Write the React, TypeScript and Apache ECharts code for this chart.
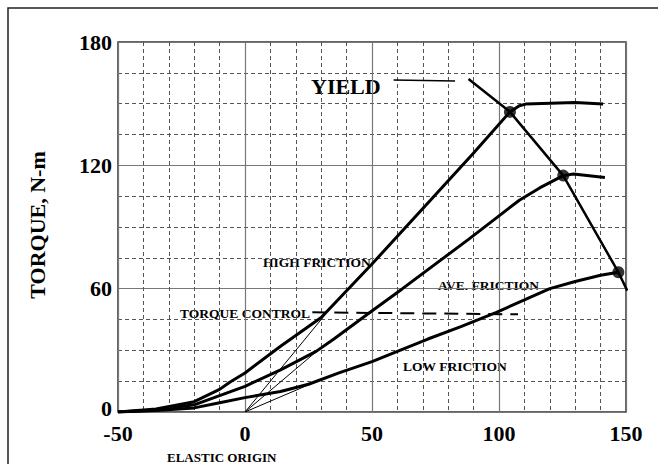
import React, { useEffect, useRef } from "react";
import * as echarts from "echarts";

// Category / tick values
const xTicks = [-50, 0, 50, 100, 150];
const yTicks = [0, 60, 120, 180];

// Curves [rotation (deg), torque (N-m)]
const highFriction: [number, number][] = [
  [-50, 0], [-35, 1.5], [-20, 5], [-10, 11], [-6, 14.5], [0, 19], [14, 32], [30, 46],
  [40, 59], [50, 72], [60, 85.5], [73, 103], [90, 126], [104.3, 146],
  [108, 149], [110.5, 149.8], [130, 150.6], [141, 149.8],
];
const aveFriction: [number, number][] = [
  [-50, 0], [-35, 1], [-20, 3.5], [-10, 8], [0, 12.5], [14, 20.5], [28, 29.5], [35, 35.5],
  [49, 48.3], [62, 60], [88, 84], [100.4, 95.8], [108, 103], [116, 109], [125.3, 115],
  [129.3, 115.8], [141.7, 114.1],
];
const lowFriction: [number, number][] = [
  [-50, 0], [-35, 0.7], [-20, 2], [-10, 4.5], [0, 7], [14, 10], [25, 13.5], [37, 19],
  [50, 24.5], [60, 29.5], [72, 35.5], [85, 41.5], [99, 48.5], [110, 54.5], [120, 60],
  [130, 63.5], [140, 66.5], [147, 68],
];
const yieldCurve: [number, number][] = [
  [88, 162], [104.3, 146], [125.3, 115], [147, 68], [150.5, 59],
];
const yieldPoints: [number, number][] = [[104.3, 146], [125.3, 115], [147, 68]];
const torqueControl: [number, number][] = [[26.5, 48.5], [107.5, 47.5]];
const yieldLeader: [number, number][] = [[58.5, 161.5], [82.7, 161]];
const elasticHigh: [number, number][] = [[0, 0], [32, 48]];
const elasticAve: [number, number][] = [[0, 0], [28, 29.3]];
const elasticLow: [number, number][] = [[0, 0], [25, 13.2]];

const SERIF = "'Liberation Serif', 'Times New Roman', serif";

export default function App() {
  const ref = useRef<HTMLDivElement>(null);
  useEffect(() => {
    if (!ref.current) return;
    const chart = echarts.init(ref.current, undefined, { renderer: "svg" });
    const thick = (data: [number, number][], w = 3) => ({
      type: "line",
      data,
      symbol: "none",
      lineStyle: { color: "#000", width: w },
      xAxisIndex: 1,
      yAxisIndex: 1,
      z: 5,
    });
    const labelFont = { fontFamily: SERIF, fontWeight: "bold" as const, fontSize: 22, color: "#000" };
    chart.setOption({
      animation: false,
      backgroundColor: "#fff",
      grid: {
        left: 118, right: 32, top: 42, bottom: 52,
        show: true, borderColor: "#333", borderWidth: 1.5, backgroundColor: "transparent",
      },
      xAxis: [
        {
          type: "value", min: -50, max: 150, interval: 10,
          axisLabel: { show: false }, axisLine: { show: false }, axisTick: { show: false },
          splitLine: { show: true, lineStyle: { color: "#555", width: 1, type: [4, 3] } },
        },
        {
          type: "value", min: -50, max: 150, interval: 50, position: "bottom",
          axisLine: { show: false }, axisTick: { show: false },
          axisLabel: {
            ...labelFont, margin: 10,
            formatter: (v: number) => (xTicks.includes(v) ? String(v) : ""),
          },
          splitLine: { show: true, lineStyle: { color: "#777", width: 1.2 } },
        },
      ],
      yAxis: [
        {
          type: "value", min: 0, max: 180, interval: 15,
          axisLabel: { show: false }, axisLine: { show: false }, axisTick: { show: false },
          splitLine: { show: true, lineStyle: { color: "#555", width: 1, type: [4, 3] } },
        },
        {
          type: "value", min: 0, max: 180, interval: 60, position: "left",
          axisLine: { show: false }, axisTick: { show: false },
          axisLabel: {
            ...labelFont, margin: 6,
            formatter: (v: number) =>
              v === 0 ? "{z|0}" : yTicks.includes(v) ? String(v) : "",
            rich: { z: { ...labelFont, padding: [0, 0, 8, 0] } },
          },
          splitLine: { show: true, lineStyle: { color: "#777", width: 1.2 } },
        },
      ],
      series: [
        thick(highFriction),
        thick(aveFriction),
        thick(lowFriction),
        thick(yieldCurve, 2.5),
        thick(yieldLeader, 1.5),
        {
          type: "line", data: torqueControl, symbol: "none", xAxisIndex: 1, yAxisIndex: 1,
          lineStyle: { color: "#000", width: 2, type: [14, 8] }, z: 5,
        },
        thick(elasticHigh, 1),
        thick(elasticAve, 1),
        thick(elasticLow, 1),
        {
          type: "scatter", data: yieldPoints, symbolSize: 12, xAxisIndex: 1, yAxisIndex: 1,
          itemStyle: { color: "#000" }, z: 6,
        },
      ],
      graphic: [
        {
          type: "rect", shape: { x: 8, y: 8, width: 700, height: 500 },
          style: { fill: "none", stroke: "#222", lineWidth: 1.5 }, silent: true,
        },
        {
          type: "text", x: 37, y: 225, rotation: Math.PI / 2,
          style: { text: "TORQUE, N-m", font: `bold 22px ${SERIF}`, fill: "#000", textAlign: "center", textVerticalAlign: "middle" },
        },
        {
          type: "text", x: 311, y: 86,
          style: { text: "YIELD", font: `bold 22px ${SERIF}`, fill: "#000", textAlign: "left", textVerticalAlign: "middle" },
        },
        {
          type: "text", x: 263, y: 262,
          style: { text: "HIGH FRICTION", font: `bold 13.5px ${SERIF}`, fill: "#000", textAlign: "left", textVerticalAlign: "middle" },
        },
        {
          type: "text", x: 180, y: 313,
          style: { text: "TORQUE CONTROL", font: `bold 13.5px ${SERIF}`, fill: "#000", textAlign: "left", textVerticalAlign: "middle" },
        },
        {
          type: "text", x: 438, y: 285,
          style: { text: "AVE. FRICTION", font: `bold 13.5px ${SERIF}`, fill: "#000", textAlign: "left", textVerticalAlign: "middle" },
        },
        {
          type: "text", x: 403, y: 366,
          style: { text: "LOW FRICTION", font: `bold 13.5px ${SERIF}`, fill: "#000", textAlign: "left", textVerticalAlign: "middle" },
        },
        {
          type: "text", x: 167, y: 457,
          style: { text: "ELASTIC ORIGIN", font: `bold 13px ${SERIF}`, fill: "#000", textAlign: "left", textVerticalAlign: "middle" },
        },
      ],
    });
    return () => chart.dispose();
  }, []);
  return (
    <div
      ref={ref}
      style={{ position: "fixed", left: 0, top: 0, width: 658, height: 464, background: "#fff" }}
    />
  );
}
